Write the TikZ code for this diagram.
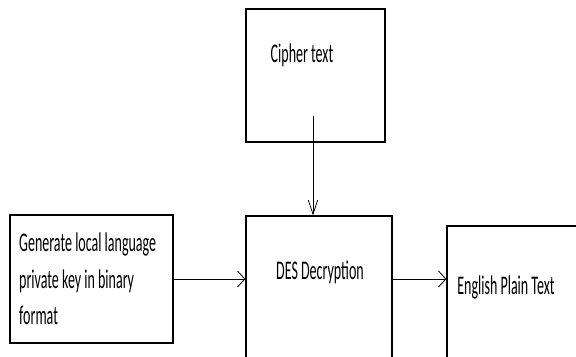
\documentclass[tikz,border=0pt]{standalone}
\usepackage{fontspec}
\setmainfont{Carlito}
\usepackage{graphicx}
\usepackage{tikz}
\usetikzlibrary{calc,arrows.meta}
\newcommand{\squeeze}[1]{\scalebox{0.52}[1]{#1}}

\begin{document}
\begin{tikzpicture}[x=0.03cm,y=-0.03cm,
box/.style={draw,line width=1pt,rectangle,inner sep=0pt},
lbl/.style={inner sep=0pt,font=\fontsize{23pt}{31pt}\selectfont},
edge/.style={-{Straight Barb[length=2.2mm,width=4.8mm]},line width=0.7pt},
vedge/.style={-{Straight Barb[length=4.2mm,width=2.8mm]},line width=0.7pt}]

\useasboundingbox (0,0) rectangle (576,356);
\clip (0,0) rectangle (576,356);

% boxes
\node[box,minimum width=4.17cm,minimum height=3.99cm](cipher) at (315.5,75.5){};
\node[box,minimum width=4.89cm,minimum height=3.84cm](keygen) at (91.5,279){};
\node[box,minimum width=4.38cm,minimum height=4.5cm](des) at (319,291){};
\node[box,minimum width=3.99cm,minimum height=4.2cm](plain) at (513.5,296){};

% texts
\node[lbl](ciphertxt) at (302,55){\squeeze{Cipher text}};
\node[lbl,anchor=west](keygentxt) at (19,281){\squeeze{\begin{tabular}{@{}l@{}}Generate local language\\private key in binary\\format\end{tabular}}};
\node[lbl](destxt) at (320,272){\squeeze{DES Decryption}};
\node[lbl](plaintxt) at (506,287){\squeeze{English Plain Text}};

% arrows
\coordinate (ciphtail) at (313,116);
\draw[vedge] (ciphtail) -- (ciphtail |- des.north);
\draw[edge] (keygen.east) -- (keygen.east -| des.west);
\draw[edge] (keygen.east -| des.east) -- (keygen.east -| plain.west);

\end{tikzpicture}
\end{document}
